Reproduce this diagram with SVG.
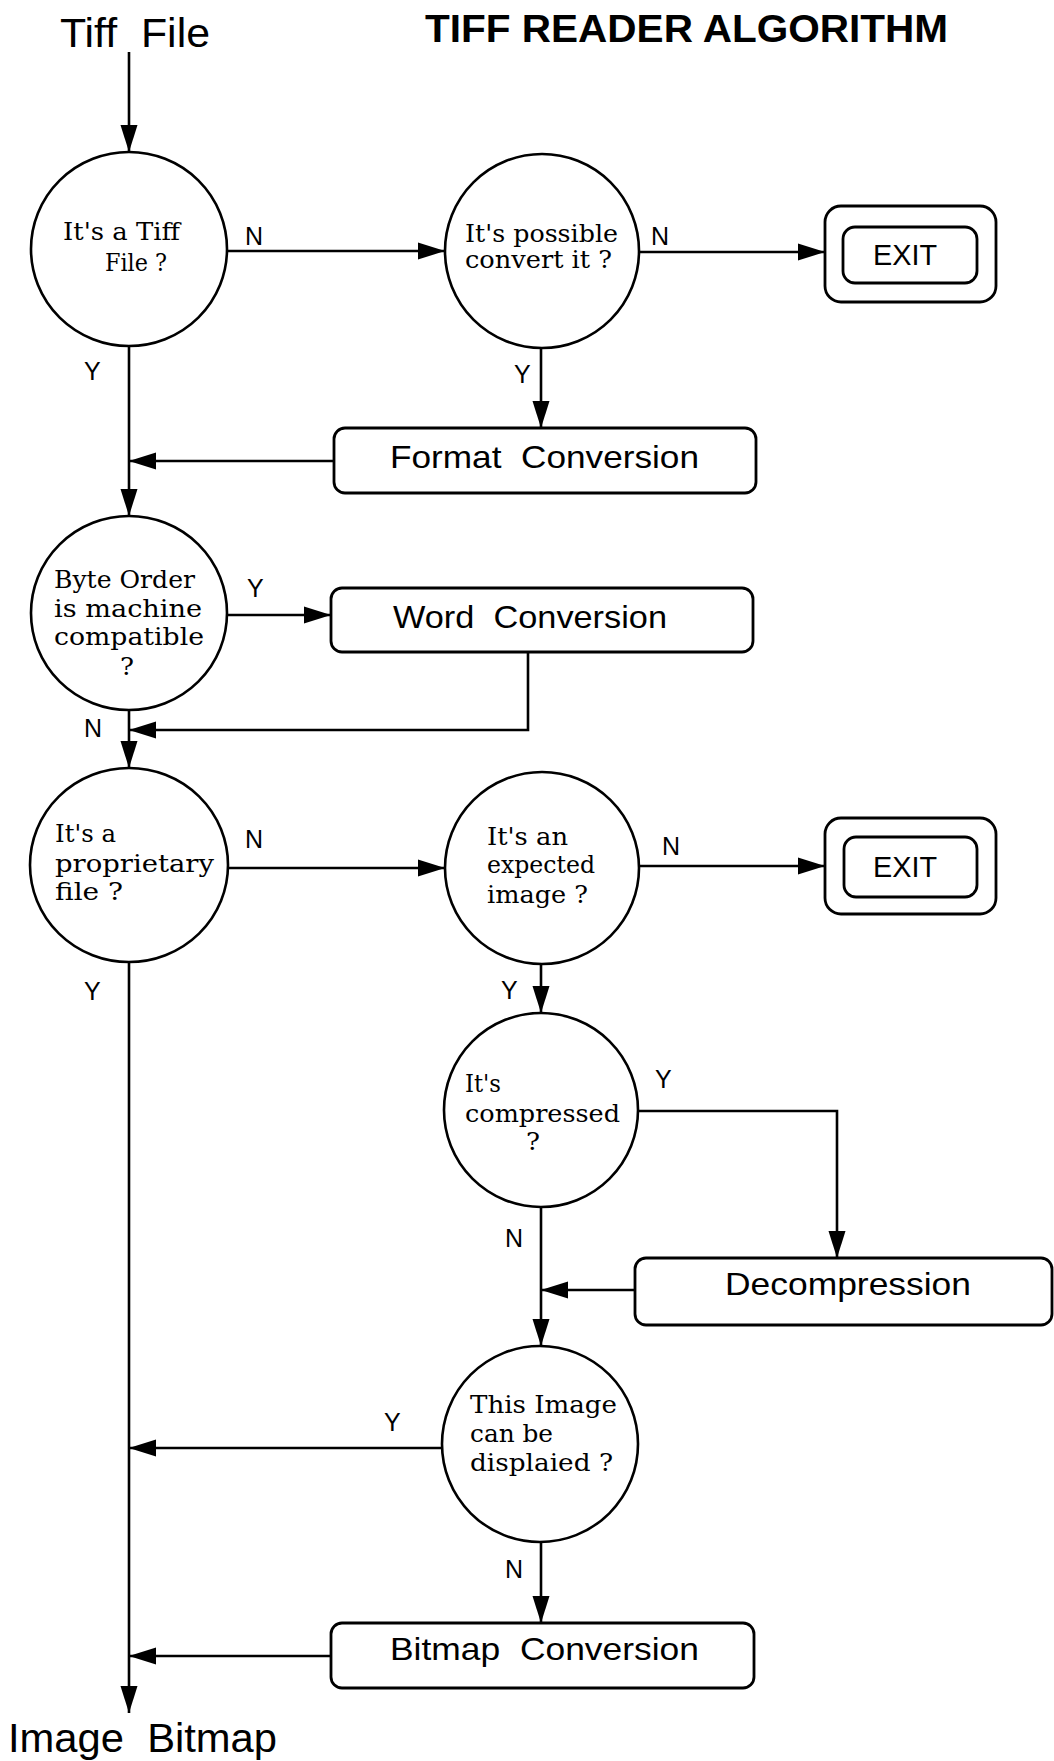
<svg xmlns="http://www.w3.org/2000/svg" width="1054" height="1761" viewBox="0 0 1054 1761">
<style>
.bg{fill:#fff}
.dec{fill:#fff;stroke:#000;stroke-width:2.6}
.box{fill:#fff;stroke:#000;stroke-width:2.8}
.con{fill:none;stroke:#000;stroke-width:2.6}
.ser{font-family:"DejaVu Serif","Liberation Serif",serif;font-size:24px;fill:#000}
.san{font-family:"Liberation Sans",Arial,sans-serif;fill:#000;white-space:pre}
.lbl{font-family:"Liberation Sans",Arial,sans-serif;font-size:25px;fill:#000}
.big{font-size:32px}
</style>
<defs>
<marker id="ah" markerUnits="userSpaceOnUse" markerWidth="28" markerHeight="18" viewBox="0 0 28 18" refX="27" refY="9" orient="auto">
<path d="M0,0.5 L27,9 L0,17.5 z" fill="#000"/>
</marker>
</defs>
<rect class="bg" x="0" y="0" width="1054" height="1761"/>

<g id="title">
<text class="san" x="425" y="42" font-size="38" font-weight="bold" textLength="523" lengthAdjust="spacingAndGlyphs">TIFF READER ALGORITHM</text>
</g>
<g id="start">
<text class="san" xml:space="preserve" x="60" y="47" font-size="40" textLength="150" lengthAdjust="spacingAndGlyphs">Tiff  File</text>
</g>
<g id="end">
<text class="san" xml:space="preserve" x="8" y="1752" font-size="40" textLength="269" lengthAdjust="spacingAndGlyphs">Image  Bitmap</text>
</g>

<g id="connectors">
<path class="con" d="M129,52 V152" marker-end="url(#ah)"/>
<path class="con" d="M227,251 H445" marker-end="url(#ah)"/>
<path class="con" d="M639,252 H825" marker-end="url(#ah)"/>
<path class="con" d="M129,346 V516" marker-end="url(#ah)"/>
<path class="con" d="M541,348 V428" marker-end="url(#ah)"/>
<path class="con" d="M334,461 H129" marker-end="url(#ah)"/>
<path class="con" d="M227,615 H331" marker-end="url(#ah)"/>
<path class="con" d="M528,652 V730 H129" marker-end="url(#ah)"/>
<path class="con" d="M129,711 V768" marker-end="url(#ah)"/>
<path class="con" d="M229,868 H445" marker-end="url(#ah)"/>
<path class="con" d="M639,866 H825" marker-end="url(#ah)"/>
<path class="con" d="M129,962 V1713" marker-end="url(#ah)"/>
<path class="con" d="M541,965 V1013" marker-end="url(#ah)"/>
<path class="con" d="M637,1111 H837 V1258" marker-end="url(#ah)"/>
<path class="con" d="M541,1208 V1346" marker-end="url(#ah)"/>
<path class="con" d="M635,1290 H541" marker-end="url(#ah)"/>
<path class="con" d="M442,1448 H129" marker-end="url(#ah)"/>
<path class="con" d="M541,1542 V1623" marker-end="url(#ah)"/>
<path class="con" d="M331,1656 H129" marker-end="url(#ah)"/>
<text class="lbl" x="245" y="245">N</text>
<text class="lbl" x="651" y="245">N</text>
<text class="lbl" x="84" y="380">Y</text>
<text class="lbl" x="514" y="383">Y</text>
<text class="lbl" x="247" y="597">Y</text>
<text class="lbl" x="84" y="737">N</text>
<text class="lbl" x="245" y="848">N</text>
<text class="lbl" x="662" y="855">N</text>
<text class="lbl" x="84" y="1000">Y</text>
<text class="lbl" x="501" y="999">Y</text>
<text class="lbl" x="655" y="1088">Y</text>
<text class="lbl" x="505" y="1247">N</text>
<text class="lbl" x="384" y="1431">Y</text>
<text class="lbl" x="505" y="1578">N</text>
</g>

<g id="is-tiff">
<ellipse class="dec" cx="129" cy="249" rx="98" ry="97"/>
<text class="ser" x="63" y="240" textLength="117" lengthAdjust="spacingAndGlyphs">It's a Tiff</text>
<text class="ser" x="105" y="271" textLength="62" lengthAdjust="spacingAndGlyphs">File ?</text>
</g>
<g id="can-convert">
<ellipse class="dec" cx="542" cy="251" rx="97" ry="97"/>
<text class="ser" x="465" y="242" textLength="153" lengthAdjust="spacingAndGlyphs">It's possible</text>
<text class="ser" x="465" y="268" textLength="147" lengthAdjust="spacingAndGlyphs">convert it ?</text>
</g>
<g id="exit1">
<rect class="box" x="825" y="206" width="171" height="96" rx="16"/>
<rect class="box" x="843" y="227" width="134" height="56" rx="12"/>
<text class="san" x="873" y="265" font-size="30" textLength="64" lengthAdjust="spacingAndGlyphs">EXIT</text>
</g>
<g id="format-conversion">
<rect class="box" x="334" y="428" width="422" height="65" rx="11"/>
<text class="san big" xml:space="preserve" x="390" y="468" textLength="309" lengthAdjust="spacingAndGlyphs">Format  Conversion</text>
</g>
<g id="byte-order">
<ellipse class="dec" cx="129" cy="613" rx="98" ry="97"/>
<text class="ser" x="54" y="588" textLength="141" lengthAdjust="spacingAndGlyphs">Byte Order</text>
<text class="ser" x="54" y="617" textLength="148" lengthAdjust="spacingAndGlyphs">is machine</text>
<text class="ser" x="54" y="645" textLength="150" lengthAdjust="spacingAndGlyphs">compatible</text>
<text class="ser" x="120" y="675" textLength="14" lengthAdjust="spacingAndGlyphs">?</text>
</g>
<g id="word-conversion">
<rect class="box" x="331" y="588" width="422" height="64" rx="11"/>
<text class="san big" xml:space="preserve" x="393" y="628" textLength="274" lengthAdjust="spacingAndGlyphs">Word  Conversion</text>
</g>
<g id="proprietary">
<ellipse class="dec" cx="129" cy="865" rx="99" ry="97"/>
<text class="ser" x="55" y="842" textLength="61" lengthAdjust="spacingAndGlyphs">It's a</text>
<text class="ser" x="55" y="872" textLength="159" lengthAdjust="spacingAndGlyphs">proprietary</text>
<text class="ser" x="55" y="900" textLength="68" lengthAdjust="spacingAndGlyphs">file ?</text>
</g>
<g id="expected-image">
<ellipse class="dec" cx="542" cy="868" rx="97" ry="96"/>
<text class="ser" x="487" y="845" textLength="81" lengthAdjust="spacingAndGlyphs">It's an</text>
<text class="ser" x="487" y="873" textLength="108" lengthAdjust="spacingAndGlyphs">expected</text>
<text class="ser" x="487" y="903" textLength="101" lengthAdjust="spacingAndGlyphs">image ?</text>
</g>
<g id="exit2">
<rect class="box" x="825" y="818" width="171" height="96" rx="16"/>
<rect class="box" x="844" y="837" width="133" height="60" rx="12"/>
<text class="san" x="873" y="877" font-size="30" textLength="64" lengthAdjust="spacingAndGlyphs">EXIT</text>
</g>
<g id="compressed">
<ellipse class="dec" cx="541" cy="1110" rx="97" ry="97"/>
<text class="ser" x="465" y="1092" textLength="36" lengthAdjust="spacingAndGlyphs">It's</text>
<text class="ser" x="465" y="1122" textLength="155" lengthAdjust="spacingAndGlyphs">compressed</text>
<text class="ser" x="526" y="1150" textLength="14" lengthAdjust="spacingAndGlyphs">?</text>
</g>
<g id="decompression">
<rect class="box" x="635" y="1258" width="417" height="67" rx="11"/>
<text class="san big" x="725" y="1295" textLength="246" lengthAdjust="spacingAndGlyphs">Decompression</text>
</g>
<g id="displayable">
<ellipse class="dec" cx="540" cy="1444" rx="98" ry="98"/>
<text class="ser" x="470" y="1413" textLength="147" lengthAdjust="spacingAndGlyphs">This Image</text>
<text class="ser" x="470" y="1442" textLength="83" lengthAdjust="spacingAndGlyphs">can be</text>
<text class="ser" x="470" y="1471" textLength="143" lengthAdjust="spacingAndGlyphs">displaied ?</text>
</g>
<g id="bitmap-conversion">
<rect class="box" x="331" y="1623" width="423" height="65" rx="11"/>
<text class="san big" xml:space="preserve" x="390" y="1660" textLength="309" lengthAdjust="spacingAndGlyphs">Bitmap  Conversion</text>
</g>
</svg>
